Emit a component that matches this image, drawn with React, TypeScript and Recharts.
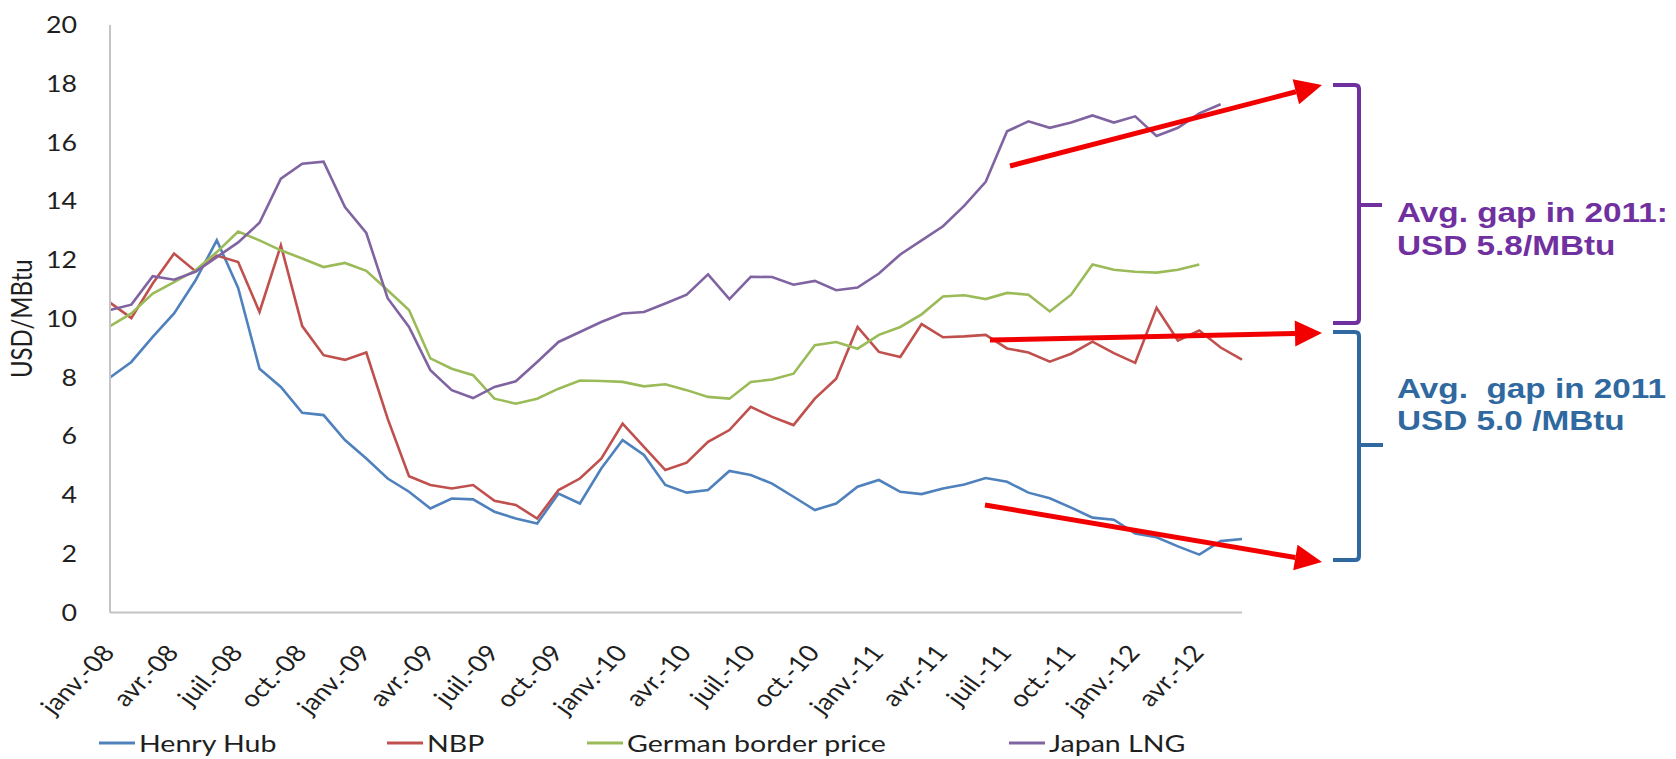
import { LineChart, Line, XAxis, YAxis } from "recharts";

// month labels, janv.-08 .. juin-12
const MONTHS = ["janv.", "févr.", "mars", "avr.", "mai", "juin", "juil.", "août", "sept.", "oct.", "nov.", "déc."];
const YEARS = ["08", "09", "10", "11", "12"];
const categories = YEARS.flatMap((y) => MONTHS.map((m) => `${m}-${y}`)).slice(0, 54);

// USD/MBtu, monthly
const henryHub = [
  8.0, 8.53, 9.38, 10.18, 11.3, 12.67, 11.05, 8.3, 7.68, 6.8, 6.72, 5.87, 5.24, 4.56,
  4.11, 3.54, 3.88, 3.85, 3.43, 3.2, 3.03, 4.05, 3.71, 4.9, 5.87, 5.36, 4.34, 4.08,
  4.17, 4.82, 4.68, 4.39, 3.94, 3.49, 3.71, 4.28, 4.51, 4.11, 4.03, 4.22, 4.36,
  4.58, 4.45, 4.08, 3.89, 3.57, 3.23, 3.16, 2.69, 2.56, 2.25, 1.97, 2.43, 2.5,
];
const nbp = [
  10.55, 10.02, 11.2, 12.22, 11.62, 12.15, 11.93, 10.23, 12.5, 9.75, 8.76, 8.6, 8.85, 6.6,
  4.64, 4.34, 4.22, 4.34, 3.8, 3.66, 3.2, 4.17, 4.56, 5.24, 6.43, 5.64, 4.85, 5.1,
  5.81, 6.21, 7.0, 6.66, 6.38, 7.28, 7.96, 9.72, 8.87, 8.7, 9.82, 9.37, 9.4,
  9.45, 8.99, 8.85, 8.54, 8.81, 9.22, 8.83, 8.5, 10.37, 9.26, 9.6, 9.02, 8.61,
];
const germanBorder = [
  9.75, 10.18, 10.86, 11.25, 11.65, 12.27, 12.97, 12.67, 12.33, 12.05, 11.76, 11.9, 11.63, 10.97,
  10.3, 8.65, 8.3, 8.08, 7.28, 7.11, 7.28, 7.62, 7.9, 7.88, 7.85, 7.7, 7.77, 7.57,
  7.34, 7.28, 7.85, 7.93, 8.13, 9.1, 9.21, 8.98, 9.45, 9.72, 10.15, 10.76, 10.8,
  10.67, 10.88, 10.82, 10.25, 10.82, 11.85, 11.67, 11.6, 11.57, 11.67, 11.85, null, null,
];
const japanLng = [
  10.3, 10.48, 11.45, 11.33, 11.6, 12.1, 12.6, 13.27, 14.77, 15.28, 15.35, 13.8, 12.92, 10.7,
  9.72, 8.25, 7.57, 7.3, 7.68, 7.87, 8.53, 9.21, 9.55, 9.89, 10.18, 10.23, 10.52, 10.82,
  11.51, 10.67, 11.43, 11.42, 11.16, 11.29, 10.97, 11.06, 11.54, 12.19, 12.67, 13.15, 13.85,
  14.66, 16.38, 16.72, 16.5, 16.68, 16.92, 16.68, 16.89, 16.22, 16.5, 16.99, 17.3, null,
];
const yTicks = [0, 2, 4, 6, 8, 10, 12, 14, 16, 18, 20];

const series = [
  { key: "hh", name: "Henry Hub", color: "#4F81BD" },
  { key: "nbp", name: "NBP", color: "#C0504D" },
  { key: "german", name: "German border price", color: "#9BBB59" },
  { key: "japan", name: "Japan LNG", color: "#8064A2" },
];
const legendX = [99, 387, 587, 1009];

const data = categories.map((month, i) => ({
  month,
  hh: henryHub[i],
  nbp: nbp[i],
  german: germanBorder[i],
  japan: japanLng[i],
}));

const FONT = "Lato, 'DejaVu Sans', sans-serif";
const SX = 1.19; // the source picture is stretched horizontally
const AXIS = "#C4C4C4";
const TXT = "#1F1F1F";

const renderYTick = (props: any) => {
  const { x, y, payload } = props;
  return (
    <g transform={`translate(${x - 33},${y}) scale(${SX},1)`}>
      <text textAnchor="end" dy="0.36em" fontFamily={FONT} fontSize={22.5} fill={TXT}>
        {payload.value}
      </text>
    </g>
  );
};

const renderXTick = (props: any) => {
  const { x, y, payload } = props;
  return (
    <g transform={`translate(${x + 6},${y + 41}) scale(${SX},1) rotate(-50)`}>
      <text textAnchor="end" fontFamily={FONT} fontSize={23} fill={TXT}>
        {payload.value}
      </text>
    </g>
  );
};

const Arrow = ({ x1, y1, x2, y2 }: { x1: number; y1: number; x2: number; y2: number }) => {
  const a = Math.atan2(y2 - y1, x2 - x1);
  const len = 27;
  const hw = 13;
  const bx = x2 - len * Math.cos(a);
  const by = y2 - len * Math.sin(a);
  const px = -Math.sin(a) * hw;
  const py = Math.cos(a) * hw;
  return (
    <g>
      <line x1={x1} y1={y1} x2={bx} y2={by} stroke="#F20000" strokeWidth={5} />
      <polygon points={`${x2},${y2} ${bx + px},${by + py} ${bx - px},${by - py}`} fill="#F20000" />
    </g>
  );
};

const App = () => {
  return (
    <div style={{ position: "absolute", left: 0, top: 0, width: 1676, height: 759, background: "#fff" }}>
      <LineChart
        width={1676}
        height={759}
        data={data}
        margin={{ top: 25, right: 434, bottom: 46.5, left: 0 }}
      >
        <XAxis
          dataKey="month"
          interval={2}
          height={100}
          tickLine={false}
          tickSize={0}
          tickMargin={0}
          axisLine={{ stroke: AXIS, strokeWidth: 2 }}
          tick={renderXTick}
        />
        <YAxis
          type="number"
          domain={[0, 20]}
          ticks={yTicks}
          interval={0}
          width={110}
          tickLine={false}
          tickSize={0}
          tickMargin={0}
          axisLine={{ stroke: AXIS, strokeWidth: 2 }}
          tick={renderYTick}
        />
        {series.map((s) => (
          <Line
            key={s.key}
            type="linear"
            dataKey={s.key}
            name={s.name}
            stroke={s.color}
            strokeWidth={2.6}
            dot={false}
            isAnimationActive={false}
          />
        ))}
      </LineChart>

      <svg
        width={1676}
        height={759}
        style={{ position: "absolute", left: 0, top: 0, pointerEvents: "none" }}
      >
        {/* axis title */}
        <text
          transform={`translate(22,318.7) scale(${SX},1) rotate(-90)`}
          textAnchor="middle"
          dy="0.35em"
          fontFamily={FONT}
          fontSize={24}
          fill={TXT}
        >
          USD/MBtu
        </text>

        {/* legend */}
        {series.map((s, i) => (
          <g key={s.key}>
            <line x1={legendX[i]} y1={743} x2={legendX[i] + 36} y2={743} stroke={s.color} strokeWidth={3} />
            <text
              transform={`translate(${legendX[i] + 40},752) scale(${SX},1)`}
              fontFamily={FONT}
              fontSize={24}
              fill={TXT}
            >
              {s.name}
            </text>
          </g>
        ))}

        {/* trend arrows */}
        <Arrow x1={1010} y1={166} x2={1322} y2={85} />
        <Arrow x1={990} y1={340} x2={1322} y2={333} />
        <Arrow x1={985} y1={505} x2={1322} y2={562} />

        {/* braces */}
        <path
          d="M1333,85 H1355 Q1359,85 1359,89 V319 Q1359,323 1355,323 H1333 M1359,205 H1382"
          fill="none"
          stroke="#7030A0"
          strokeWidth={4}
        />
        <path
          d="M1333,332 H1355 Q1359,332 1359,336 V556 Q1359,560 1355,560 H1333 M1359,445 H1383"
          fill="none"
          stroke="#2F69A0"
          strokeWidth={4}
        />

        <g fontFamily="'Liberation Sans', Arial, sans-serif" fontWeight="bold" fontSize={28}>
          <text transform={`translate(1397,221.7) scale(${SX},1)`} fill="#7030A0">
            Avg. gap in 2011:
          </text>
          <text transform={`translate(1397,255) scale(${SX},1)`} fill="#7030A0">
            USD 5.8/MBtu
          </text>
          <text transform={`translate(1397,398.3) scale(${SX},1)`} fill="#2F69A0" style={{ whiteSpace: "pre" }}>
            {"Avg.  gap in 2011"}
          </text>
          <text transform={`translate(1397,430) scale(${SX},1)`} fill="#2F69A0" style={{ whiteSpace: "pre" }}>
            {"USD 5.0 /MBtu"}
          </text>
        </g>
      </svg>
    </div>
  );
};

export default App;
